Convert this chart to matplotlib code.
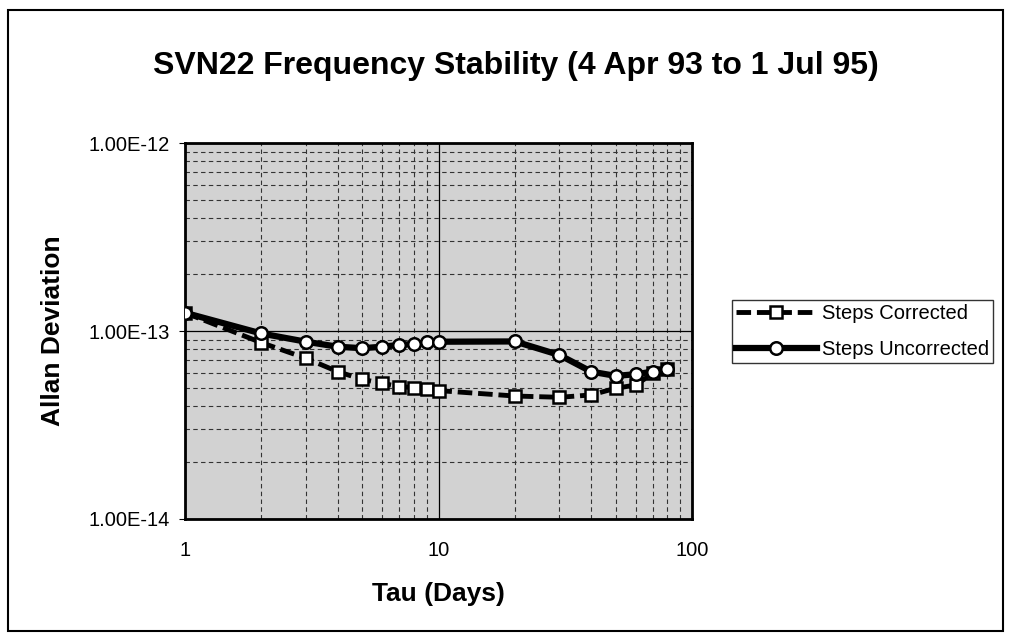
import matplotlib.pyplot as plt
from matplotlib.patches import Rectangle
from matplotlib.ticker import NullFormatter, LogLocator

plt.rcParams['font.family'] = ['Liberation Sans', 'DejaVu Sans']

tau = [1, 2, 3, 4, 5, 6, 7, 8, 9, 10, 20, 30, 40, 50, 60, 70, 80]
corrected = [1.25e-13, 0.867e-13, 0.716e-13, 0.608e-13, 0.553e-13, 0.527e-13,
             0.506e-13, 0.50e-13, 0.49e-13, 0.482e-13, 0.451e-13, 0.444e-13,
             0.457e-13, 0.496e-13, 0.516e-13, 0.596e-13, 0.625e-13]
uncorrected = [1.25e-13, 0.97e-13, 0.877e-13, 0.825e-13, 0.81e-13, 0.825e-13,
               0.843e-13, 0.853e-13, 0.87e-13, 0.877e-13, 0.88e-13, 0.745e-13,
               0.608e-13, 0.577e-13, 0.589e-13, 0.608e-13, 0.625e-13]
ytick_labels = ["1.00E-14", "1.00E-13", "1.00E-12"]

fig = plt.figure(figsize=(10.1, 6.39), dpi=100)
ax = fig.add_axes([0.1832, 0.1878, 0.5020, 0.5884])
ax.set_facecolor('#d2d2d2')

ax.plot(tau, corrected, color='black', lw=3.5, ls=(0, (3, 1.2)),
        marker='s', ms=9, mfc='white', mec='black', mew=1.8, label='Steps Corrected', zorder=3)
ax.plot(tau, uncorrected, color='black', lw=4.5, ls='-',
        marker='o', ms=9, mfc='white', mec='black', mew=1.8, label='Steps Uncorrected', zorder=4)

ax.set_xscale('log')
ax.set_yscale('log')
ax.set_xlim(1, 100)
ax.set_ylim(1e-14, 1e-12)

ax.set_xticks([1, 10, 100])
ax.set_xticklabels(["1", "10", "100"])
ax.set_yticks([1e-14, 1e-13, 1e-12])
ax.set_yticklabels(ytick_labels)
ax.xaxis.set_minor_locator(LogLocator(base=10, subs=range(2, 10)))
ax.yaxis.set_minor_locator(LogLocator(base=10, subs=range(2, 10)))
ax.xaxis.set_minor_formatter(NullFormatter())
ax.yaxis.set_minor_formatter(NullFormatter())
ax.tick_params(axis='x', which='both', length=0, pad=16, labelsize=14.5)
ax.tick_params(axis='y', which='major', length=4, direction='out', pad=7, labelsize=14.5)
ax.tick_params(axis='y', which='minor', length=0)

ax.grid(True, which='major', color='black', lw=0.9, ls='-')
ax.grid(True, which='minor', color='#333333', lw=0.8, ls=(0, (4, 3)))
ax.set_axisbelow(True)
for s in ax.spines.values():
    s.set_linewidth(2)

ax.set_xlabel("Tau (Days)", fontsize=19, fontweight='bold', labelpad=16)
ax.set_ylabel("Allan Deviation", fontsize=19, fontweight='bold', labelpad=17)
fig.text(0.511, 0.897, "SVN22 Frequency Stability (4 Apr 93 to 1 Jul 95)",
         fontsize=23, fontweight='bold', ha='center', va='center')

leg = fig.legend(loc='upper left', bbox_to_anchor=(0.7248, 0.5305), frameon=True,
                 fancybox=False, edgecolor='black', fontsize=14.5, handlelength=4,
                 handletextpad=0.25, borderpad=0.2, labelspacing=0.85, borderaxespad=0)
leg.get_frame().set_linewidth(1)

fig.patches.append(Rectangle((0.008, 0.012), 0.985, 0.972, transform=fig.transFigure,
                             fill=False, edgecolor='black', lw=1.5))

fig.savefig("out.png", dpi=100)
